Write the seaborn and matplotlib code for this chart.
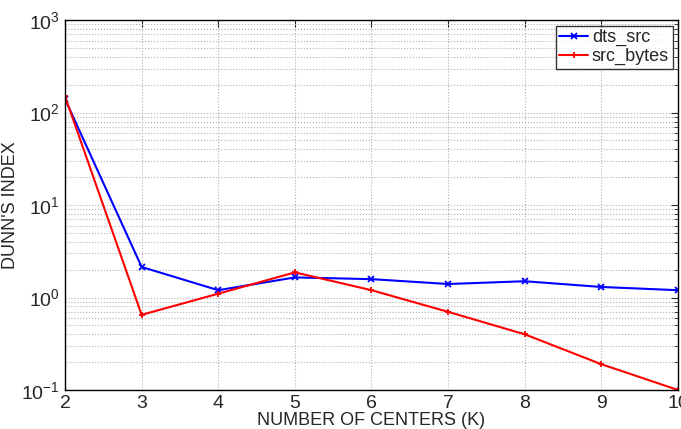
import pandas as pd
import numpy as np
import seaborn as sns
import matplotlib.pyplot as plt
from matplotlib.ticker import LogLocator, FixedLocator

centers = [2, 3, 4, 5, 6, 7, 8, 9, 10]
dts_src = [140, 2.14, 1.2, 1.65, 1.58, 1.4, 1.5, 1.3, 1.2]
src_bytes = [150, 0.65, 1.1, 1.87, 1.2, 0.7, 0.4, 0.19, 0.1]

df = pd.DataFrame({
    'K': centers * 2,
    'dunn': dts_src + src_bytes,
    'series': ['dts_src'] * len(centers) + ['src_bytes'] * len(centers),
})

sns.set_style('white')
plt.rcParams['font.family'] = ['Liberation Sans', 'DejaVu Sans']

fig = plt.figure(figsize=(6.81, 4.29), dpi=100)
ax = fig.add_axes([0.0955, 0.091, 0.9, 0.862])

sns.lineplot(data=df, x='K', y='dunn', hue='series', style='series',
             palette={'dts_src': '#0000ff', 'src_bytes': '#ff0000'},
             markers={'dts_src': 'x', 'src_bytes': '+'}, dashes=False,
             markersize=5, linewidth=1.5, ax=ax, legend=False)

# seaborn paints marker edges white, give them the line colour
for ln in ax.get_lines():
    ln.set_markeredgecolor(ln.get_color())
    ln.set_markeredgewidth(1.3)

ax.set_yscale('log')
ax.set_xlim(2, 10)
ax.set_ylim(0.1, 1000)
ax.xaxis.set_major_locator(FixedLocator(centers))
ax.yaxis.set_major_locator(LogLocator(base=10, numticks=10))
ax.yaxis.set_minor_locator(LogLocator(base=10, subs=np.arange(2, 10), numticks=10))
ax.grid(True, which='major', color='#b0b0b0', linestyle=':', linewidth=0.8)
ax.grid(True, which='minor', axis='y', color='#b0b0b0', linestyle=':', linewidth=0.8)
ax.tick_params(which='both', direction='in', top=True, right=True, labelsize=14)
ax.tick_params(which='major', length=5)
ax.tick_params(which='minor', length=3)
for s in ax.spines.values():
    s.set_color('black')
    s.set_linewidth(1.0)

ax.set_xlabel('NUMBER OF CENTERS (K)', fontsize=13, labelpad=0)
ax.set_ylabel("DUNN'S INDEX", fontsize=13, labelpad=2)

leg = ax.legend(ax.get_lines(), ['dts_src', 'src_bytes'], loc='upper right',
                fontsize=13, frameon=True, fancybox=False,
                borderpad=0.2, handlelength=1.6, handletextpad=0.2,
                labelspacing=0.1, borderaxespad=0.3)
leg.get_frame().set_edgecolor('black')
leg.get_frame().set_linewidth(1.0)

fig.savefig('out.png', dpi=100)
